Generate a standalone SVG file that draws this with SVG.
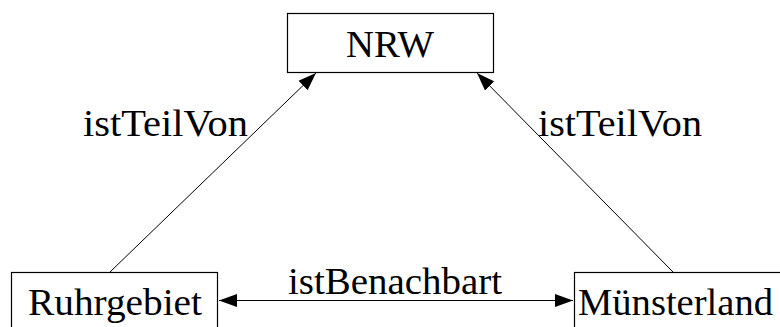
<svg xmlns="http://www.w3.org/2000/svg" width="780" height="327" viewBox="0 0 780 327">
<style>
.box{fill:#fff;stroke:#000;stroke-width:1.2}
.c{stroke:#000;stroke-width:1;fill:none}
</style>
<defs>
<marker id="ah" markerUnits="userSpaceOnUse" markerWidth="20" markerHeight="14" refX="18" refY="7" orient="auto-start-reverse" viewBox="0 0 20 14">
<path d="M0,0.5 L18,7 L0,13.5 Z" fill="#000"/>
</marker>
</defs>
<rect width="780" height="327" fill="#fff"/>
<g font-family="Liberation Serif, Times New Roman, DejaVu Serif, serif" font-size="38" fill="#000">
<g id="NRW">
<rect class="box" x="287.5" y="13.5" width="206" height="59"/>
<text x="346" y="57" textLength="88" lengthAdjust="spacingAndGlyphs">NRW</text>
</g>
<g id="Ruhrgebiet">
<rect class="box" x="11.5" y="272.5" width="206" height="70"/>
<text x="28" y="315" textLength="174" lengthAdjust="spacingAndGlyphs">Ruhrgebiet</text>
</g>
<g id="Muensterland">
<rect class="box" x="574.5" y="272.5" width="220" height="70"/>
<text x="578" y="315" textLength="195" lengthAdjust="spacingAndGlyphs">Münsterland</text>
</g>
<g id="connectors">
<line class="c" x1="110" y1="272" x2="316" y2="73" marker-end="url(#ah)"/>
<line class="c" x1="673" y1="272" x2="477" y2="73" marker-end="url(#ah)"/>
<line class="c" x1="219" y1="300.5" x2="573" y2="300.5" marker-start="url(#ah)" marker-end="url(#ah)"/>
<text x="83" y="136" textLength="165" lengthAdjust="spacingAndGlyphs">istTeilVon</text>
<text x="538" y="136" textLength="164" lengthAdjust="spacingAndGlyphs">istTeilVon</text>
<text x="288" y="294" textLength="214" lengthAdjust="spacingAndGlyphs">istBenachbart</text>
</g>
</g>
</svg>
